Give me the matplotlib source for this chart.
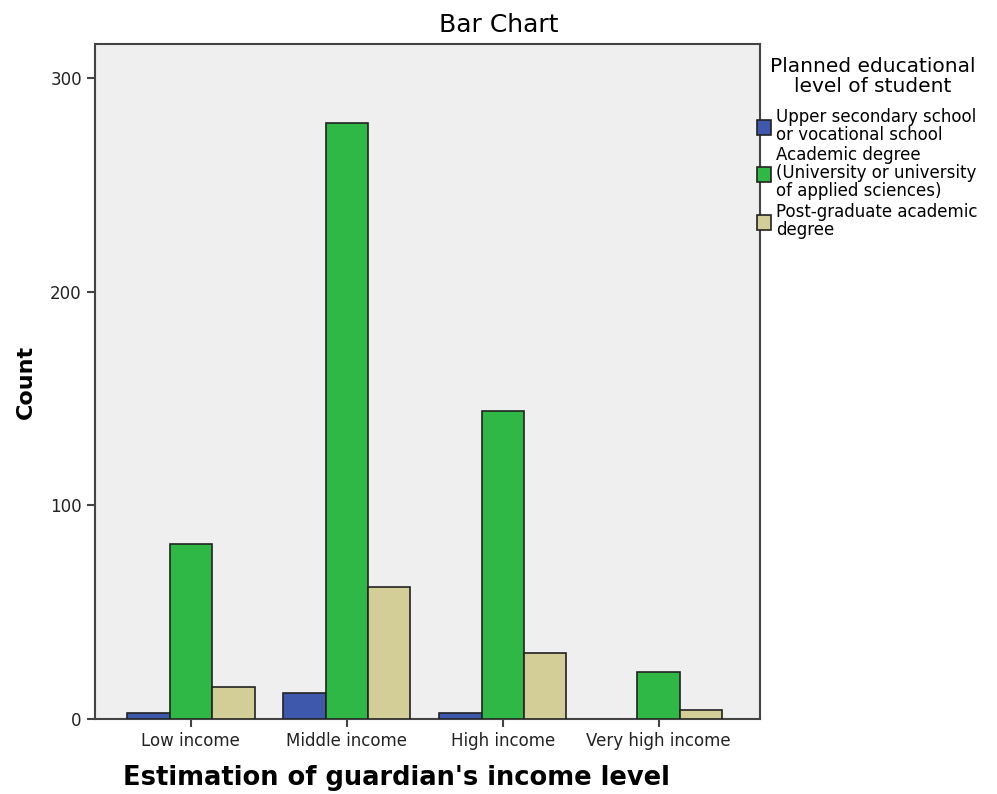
import matplotlib.pyplot as plt
import numpy as np

categories = ['Low income', 'Middle income', 'High income', 'Very high income']
series_names = ['Upper secondary school\nor vocational school',
                'Academic degree\n(University or university\nof applied sciences)',
                'Post-graduate academic\ndegree']
upper_secondary = [3, 12, 3, 0]
academic = [82, 279, 144, 22]
post_graduate = [15, 62, 31, 4]
colors = ['#3e58ac', '#2fb845', '#d3ce97']

fig = plt.figure(figsize=(9.97, 7.94), dpi=100)
ax = fig.add_axes([0.0953, 0.0945, 0.667, 0.85])
ax.set_facecolor('#efefef')

x = np.arange(len(categories))
w = 0.272
for i, vals in enumerate([upper_secondary, academic, post_graduate]):
    bars = ax.bar(x + (i - 1) * w, vals, w, color=colors[i], edgecolor='#222222',
                  linewidth=1.2, label=series_names[i], zorder=3)
    # zero counts are not drawn
    for b, v in zip(bars, vals):
        if v == 0:
            b.set_visible(False)

ax.set_xlim(-0.615, 3.65)
ax.set_ylim(0, 316)
ax.set_yticks([0, 100, 200, 300])
ax.set_xticks(x)
ax.set_xticklabels(categories)
for s in ax.spines.values():
    s.set_color('#444444')
    s.set_linewidth(1.5)
ax.tick_params(axis='both', colors='#444444', labelcolor='#222222',
               labelsize=12, length=6, width=1.5)
ax.set_xlabel("Estimation of guardian's income level", fontsize=18.5,
              fontweight='bold')
ax.xaxis.set_label_coords(0.454, -0.068)
ax.set_ylabel('Count', fontsize=16, fontweight='bold', labelpad=10)
fig.text(0.5, 0.968, 'Bar Chart', fontsize=18, ha='center', va='center')

# legend title drawn separately so the gap below it can be set
fig.text(0.875, 0.904, 'Planned educational\nlevel of student', fontsize=14.5,
         ha='center', va='center', multialignment='center', linespacing=1.05)
leg = ax.legend(loc='upper left', bbox_to_anchor=(0.759, 0.864),
                bbox_transform=fig.transFigure, frameon=False,
                fontsize=12, handlelength=0.85, handleheight=1.0,
                handletextpad=0.3, labelspacing=0.15, borderaxespad=0,
                borderpad=0)
for t in leg.get_texts():
    t.set_linespacing(1.0)

fig.savefig('out.png', dpi=100)
